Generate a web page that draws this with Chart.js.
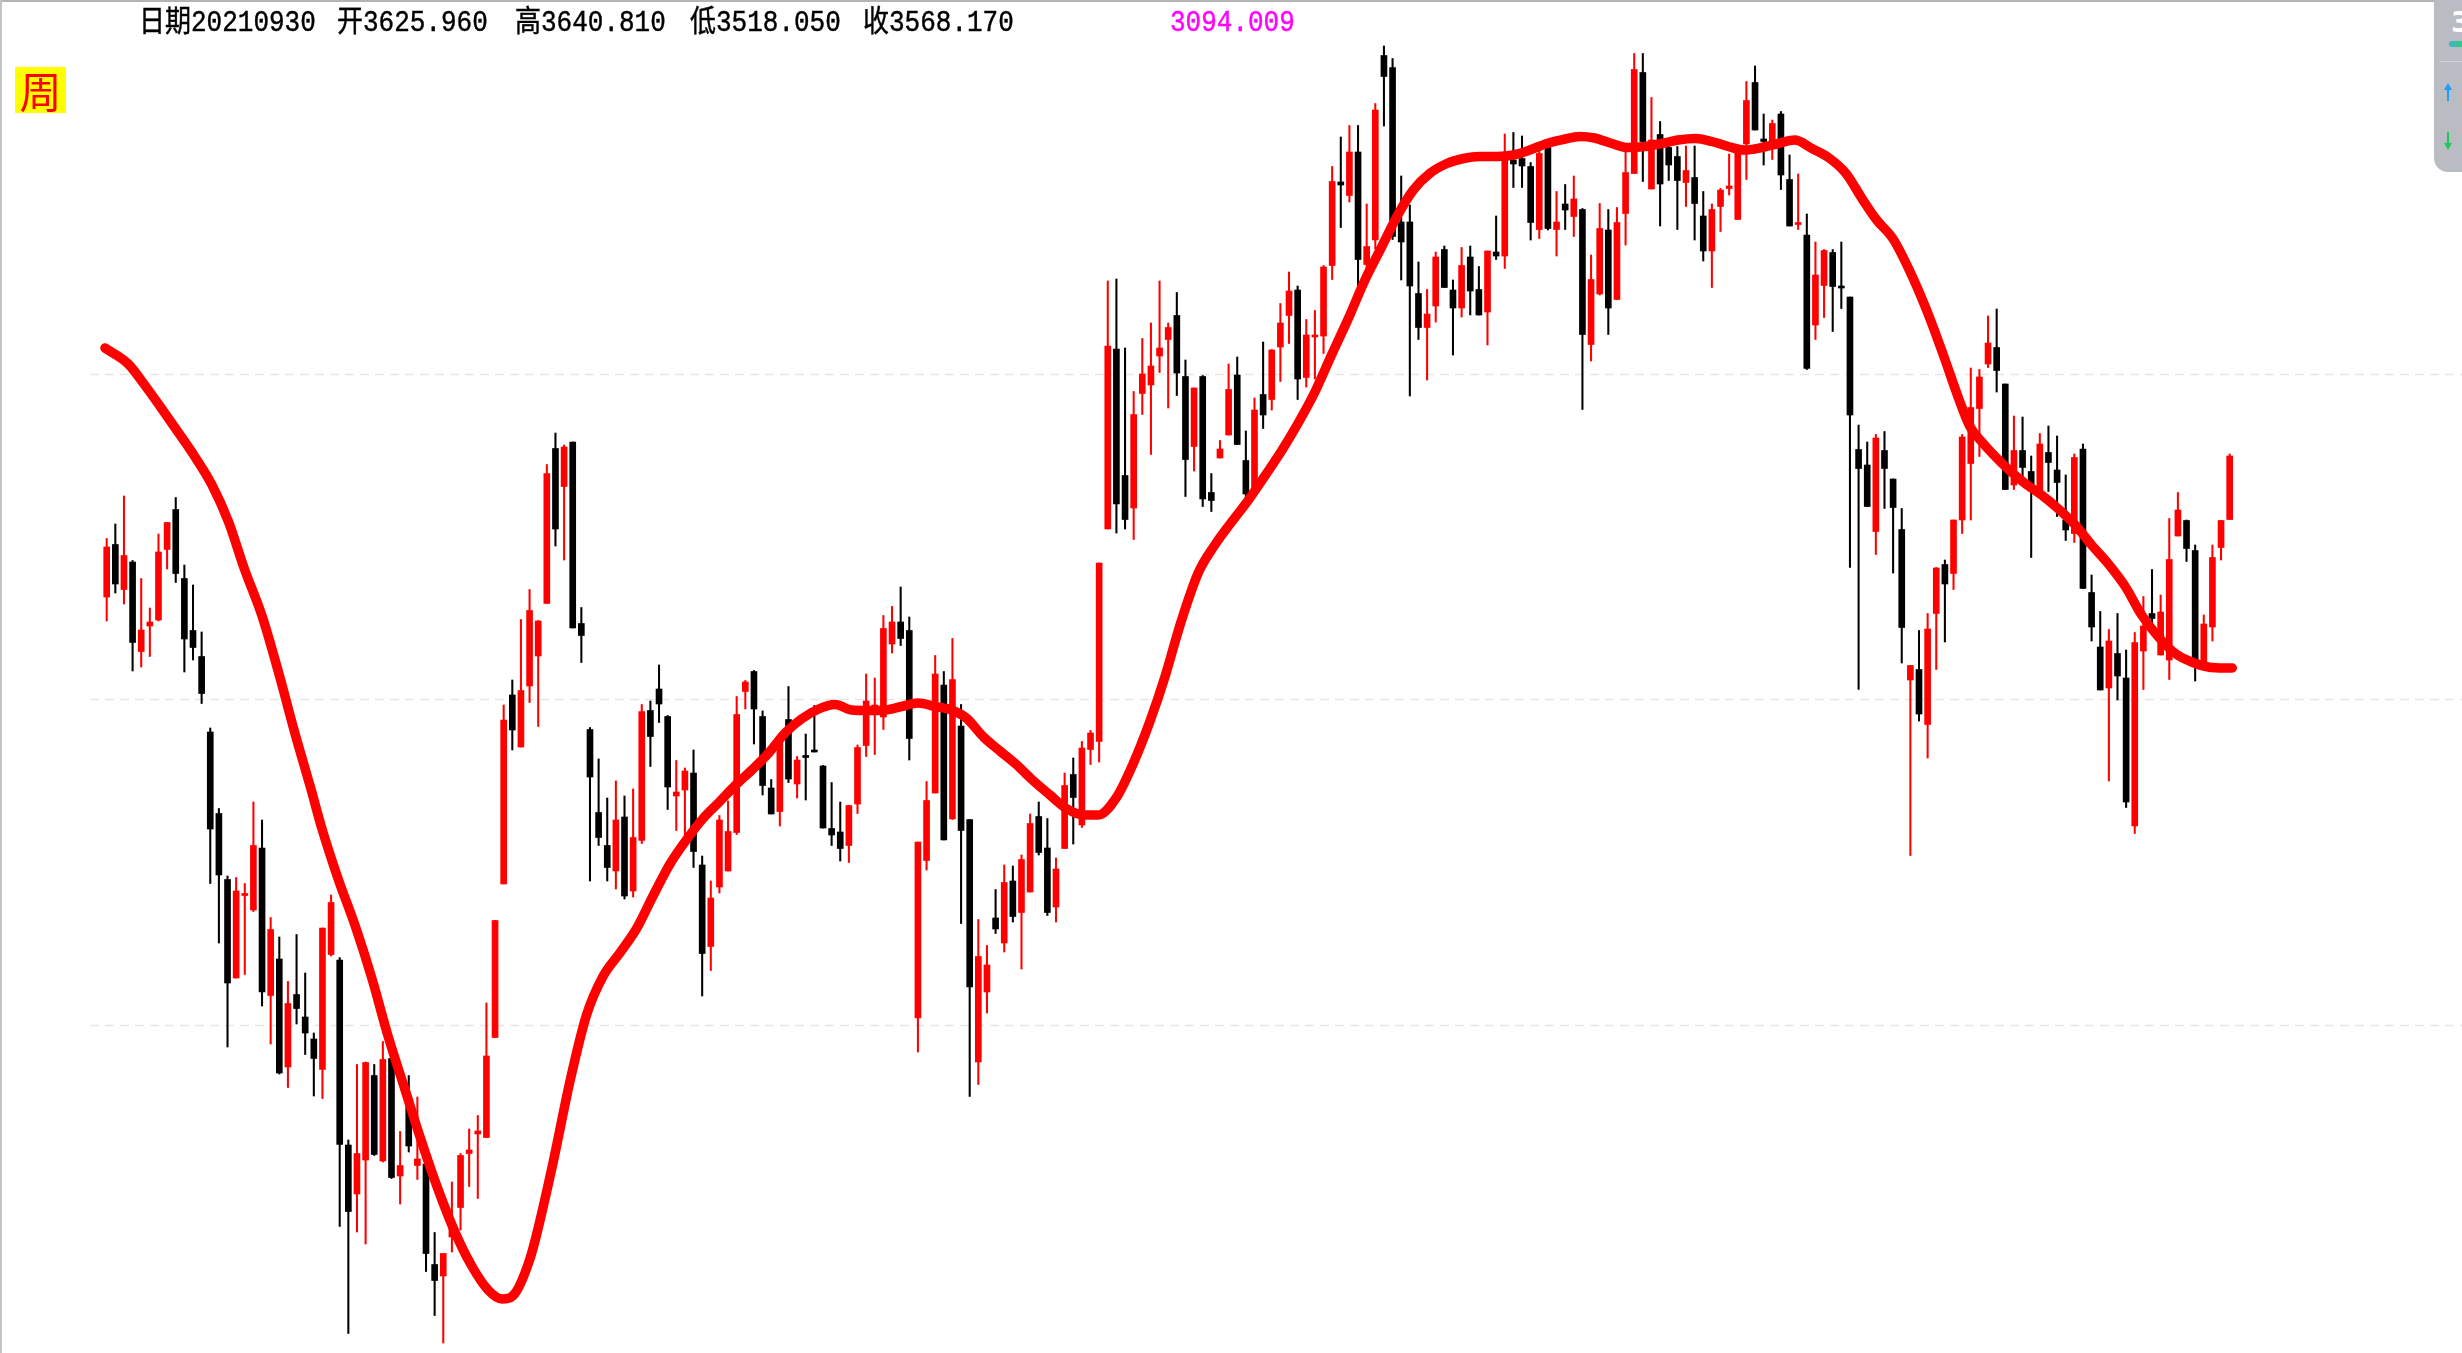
<!DOCTYPE html>
<html><head><meta charset="utf-8">
<script src="https://cdn.jsdelivr.net/npm/chart.js@4.4.0/dist/chart.umd.min.js"></script>
<style>
html,body{margin:0;padding:0;background:#fff;overflow:hidden}
#wrap{position:relative;width:2462px;height:1353px;background:#fff}
#c{position:absolute;left:0;top:0}
.hd{position:absolute;top:6px;font-size:26px;line-height:30px;font-family:"Liberation Mono","Noto Sans CJK SC",monospace;color:#000;white-space:pre;-webkit-text-stroke:0.4px currentColor;transform:scaleY(1.15);transform-origin:0 0}
#zhou{position:absolute;left:15px;top:67px;width:51px;height:46px;background:#ffff00;color:#ff0000;font:42px/46px "Noto Sans CJK SC",sans-serif;text-align:center}
#topline{position:absolute;left:0;top:0;width:2462px;height:2px;background:#b4b4b4}
#leftline{position:absolute;left:0;top:0;width:2px;height:1353px;background:#c4c4c4}
#panel{position:absolute;left:2434px;top:0;width:28px;height:172px;background:#b9bcc2;border-bottom-left-radius:14px;overflow:hidden}
</style></head><body>
<div id="wrap">
<canvas id="c" width="2462" height="1353"></canvas>
<div id="topline"></div><div id="leftline"></div>
<div class="hd" style="left:139px">日期20210930</div>
<div class="hd" style="left:337px">开3625.960</div>
<div class="hd" style="left:515px">高3640.810</div>
<div class="hd" style="left:690px">低3518.050</div>
<div class="hd" style="left:863px">收3568.170</div>
<div class="hd" style="left:1170px;color:#ff00ff">3094.009</div>
<div id="zhou">周</div>
<div id="panel">
  <div style="position:absolute;left:17px;top:6px;color:#fff;font:bold 28px 'DejaVu Sans',sans-serif">3</div>
  <div style="position:absolute;left:15px;top:41px;width:20px;height:6px;border-radius:3px;background:linear-gradient(90deg,#3cb4c8,#3ccf6c)"></div>
  <div style="position:absolute;left:5px;top:61px;width:23px;height:1px;background:#d2d4d8"></div>
  <svg style="position:absolute;left:9px;top:82px" width="10" height="20"><path d="M5 1 L9 8 L6 8 L6 19 L4 19 L4 8 L1 8 Z" fill="#1e9bff"/></svg>
  <svg style="position:absolute;left:9px;top:131px" width="10" height="20"><path d="M5 19 L9 12 L6 12 L6 1 L4 1 L4 12 L1 12 Z" fill="#1ec85a"/></svg>
</div>
</div>
<script>
const openP = [2806,2911,2821,2876,2697,2748,2760,2901,2981,2843,
2739,2687,2536,2373,2241,2044,2209,2180,2304,2009,
2082,1866,2011,1966,1922,1861,2091,2080,1710,1612,
1680,1849,1678,1883,1648,1808,1669,1672,1471,1448,
1526,1585,1693,1732,1725,1925,2232,2610,2506,2628,
2688,2793,3103,3027,3116,2753,2541,2375,2309,2258,
2366,2218,2319,2579,2622,2567,2408,2420,2454,2270,
2107,2226,2258,2335,2617,2657,2567,2424,2377,2561,
2432,2487,2500,2468,2343,2336,2309,2392,2509,2580,
2566,2712,2756,2739,1964,2279,2414,2630,2362,2548,
2361,1876,2016,2164,2114,2238,2175,2216,2367,2304,
2186,2303,2451,2350,2501,2517,2942,3302,3049,2984,
3213,3230,3288,3321,3369,3247,3107,3247,3015,3084,
3130,3250,3079,3020,3211,3201,3306,3369,3420,3245,
3326,3328,3469,3636,3609,3696,3471,3520,3889,3865,
3556,3556,3413,3345,3388,3501,3420,3384,3486,3421,
3376,3496,3488,3680,3683,3667,3541,3705,3541,3592,
3567,3581,3311,3412,3540,3401,3573,3653,3855,3622,
3731,3705,3687,3635,3645,3568,3498,3587,3623,3561,
3712,3835,3722,3717,3772,3641,3551,3530,3350,3429,
3495,3427,3406,3101,3070,2937,3099,3042,2941,2640,
2661,2551,2773,2871,2853,2960,3073,3183,3272,3305,
3232,3030,3099,3057,3020,3095,3060,2960,2933,3102,
2815,2706,2624,2693,2644,2348,2698,2773,2690,2680,
2928,2959,2899,2666,2746,2905,2961];
const highP = [2923,2952,3008,2879,2843,2784,2932,2955,3005,2870,
2830,2736,2544,2383,2248,2245,2233,2396,2360,2165,
2126,2037,2131,2054,1934,2144,2210,2085,1720,1871,
1876,1871,1917,1886,1737,1849,1806,1680,1535,1493,
1636,1693,1742,1769,1994,2159,2590,2640,2761,2821,
2759,3071,3134,3110,3116,2785,2545,2482,2404,2438,
2408,2422,2591,2598,2670,2569,2479,2464,2500,2288,
2238,2369,2398,2607,2639,2659,2578,2441,2523,2627,
2487,2532,2589,2469,2435,2396,2389,2510,2652,2644,
2769,2787,2826,2766,2316,2437,2689,2657,2723,2591,
2361,2161,2109,2221,2270,2268,2290,2372,2396,2363,
2284,2454,2484,2517,2539,2874,3438,3442,3304,3217,
3323,3354,3438,3354,3415,3280,3224,3249,3053,3119,
3272,3286,3138,3204,3316,3301,3393,3456,3428,3361,
3379,3469,3667,3726,3749,3749,3592,3793,3908,3883,
3648,3590,3476,3421,3496,3508,3440,3505,3508,3467,
3498,3568,3732,3735,3728,3675,3705,3708,3617,3631,
3648,3583,3490,3593,3581,3585,3697,3893,3893,3805,
3757,3710,3707,3708,3708,3617,3592,3623,3692,3710,
3837,3868,3772,3760,3777,3690,3652,3572,3516,3501,
3501,3516,3406,3150,3116,3131,3137,3042,2983,2669,
2739,2773,2865,2880,2960,3131,3264,3261,3368,3382,
3232,3168,3166,3088,3133,3148,3128,3050,3092,3112,
2850,2777,2741,2773,2700,2735,2807,2861,2810,2963,
3015,2960,2910,2770,2910,2959,3092];
const lowP = [2758,2814,2792,2658,2666,2687,2758,2862,2835,2656,
2680,2593,2233,2114,1906,2044,2051,2177,1988,1912,
1852,1825,1952,1891,1808,1803,2088,1547,1333,1536,
1512,1689,1676,1643,1592,1696,1641,1457,1369,1314,
1496,1540,1627,1603,1725,1925,2232,2500,2506,2595,
2547,2793,2908,2880,2744,2675,2238,2309,2238,2222,
2202,2206,2313,2467,2555,2381,2339,2327,2265,2008,
2059,2214,2258,2331,2582,2512,2410,2372,2348,2435,
2404,2400,2496,2344,2309,2278,2275,2373,2487,2491,
2541,2694,2709,2480,1896,2260,2414,2320,2361,2153,
1807,1831,1974,2133,2096,2156,2062,2216,2290,2169,
2156,2303,2312,2345,2471,2476,2942,2934,2942,2921,
3171,3091,3255,3184,3209,3007,3058,2987,2977,3084,
3130,3111,3007,3017,3143,3180,3237,3313,3201,3226,
3242,3293,3441,3545,3596,3420,3451,3502,3748,3521,
3440,3208,3321,3240,3356,3425,3290,3366,3370,3370,
3310,3481,3463,3625,3625,3520,3523,3540,3488,3541,
3527,3181,3278,3410,3331,3401,3510,3653,3637,3622,
3548,3639,3541,3587,3520,3478,3425,3537,3610,3561,
3641,3740,3670,3681,3621,3548,3541,3261,3321,3365,
3337,3383,2865,2621,2987,2891,2983,2854,2674,2289,
2558,2484,2661,2716,2821,2933,2960,3087,3265,3216,
3021,3021,3046,2885,3015,3017,2967,2919,2915,2823,
2718,2620,2438,2600,2385,2333,2621,2733,2690,2641,
2928,2877,2638,2666,2718,2880,2961];
const closeP = [2906,2832,2889,2715,2740,2756,2896,2955,2853,2722,
2705,2613,2342,2250,2034,2218,2213,2309,2016,2141,
1854,1993,1983,1934,1883,2144,2195,1711,1577,1693,
1875,1691,1881,1645,1669,1708,1682,1493,1439,1493,
1552,1689,1700,1738,1888,2159,2560,2540,2619,2779,
2758,3053,2942,3106,2744,2729,2446,2325,2265,2360,
2208,2325,2577,2527,2592,2426,2416,2458,2297,2093,
2204,2360,2337,2571,2636,2582,2429,2372,2519,2442,
2480,2485,2496,2344,2330,2303,2389,2505,2598,2590,
2743,2756,2723,2523,2316,2399,2652,2320,2641,2339,
2026,2087,2070,2142,2235,2167,2281,2353,2295,2175,
2262,2429,2405,2504,2534,2874,3308,2992,2961,3171,
3252,3268,3304,3345,3254,3081,3224,3002,2999,3102,
3221,3111,3012,3180,3170,3300,3354,3418,3242,3330,
3330,3466,3637,3630,3696,3481,3507,3780,3847,3527,
3516,3428,3345,3372,3486,3425,3384,3469,3418,3370,
3498,3488,3680,3672,3668,3555,3693,3543,3556,3580,
3602,3331,3441,3543,3384,3555,3655,3861,3717,3720,
3632,3670,3639,3659,3593,3498,3581,3620,3628,3700,
3799,3740,3717,3753,3650,3548,3555,3263,3450,3499,
3427,3424,3170,3063,2987,3124,3063,2985,2745,2669,
2572,2742,2864,2832,2960,3126,3185,3246,3314,3259,
3021,3099,3065,3030,3112,3075,3035,2940,3085,2823,
2746,2620,2718,2648,2396,2715,2748,2763,2776,2881,
2980,2903,2680,2752,2885,2959,3088];
// smoothed average line, sampled along the bar index axis
const maX = [0.8,3.5,5.4,7.4,9.3,11.2,13.2,15.1,17.0,19.0,
20.9,22.8,24.7,25.9,27.8,29.8,31.7,33.6,35.6,37.5,
39.4,41.4,43.3,45.2,46.8,48.3,50.0,50.8,52.7,54.7,
56.6,58.5,60.5,62.4,64.3,66.3,68.2,70.1,72.1,74.0,
75.7,77.7,79.6,81.5,83.5,85.4,87.3,89.2,91.2,93.1,
95.0,97.0,98.9,100.6,102.6,104.5,106.4,108.4,110.3,112.2,
114.2,115.9,118.0,119.9,121.9,123.6,125.5,127.5,129.4,131.3,
133.3,135.2,137.2,139.1,141.0,143.0,144.9,146.8,148.7,150.5,
152.4,154.3,156.3,158.2,160.1,162.1,164.0,165.9,167.9,169.8,
171.7,173.4,175.4,177.3,179.3,181.2,183.1,185.1,187.0,188.9,
190.8,192.8,194.7,196.6,198.6,200.5,202.5,204.5,206.1,208.0,
209.9,211.9,213.8,215.7,216.9,218.4,220.0,221.5,223.3,225.2,
227.1,229.1,231.0,232.9,234.9,236.8,238.7,240.7,242.6,244.5,
246.5,247.3];
const maY = [3304,3272,3230,3182,3135,3087,3030,2957,2860,2768,
2656,2534,2420,2345,2243,2148,2045,1928,1819,1716,
1621,1534,1468,1420,1402,1413,1480,1530,1673,1839,
1970,2047,2095,2143,2208,2273,2321,2363,2398,2432,
2459,2494,2534,2562,2582,2591,2580,2579,2580,2587,
2594,2587,2580,2564,2526,2498,2471,2438,2410,2383,
2370,2370,2405,2471,2558,2645,2757,2855,2910,2955,
3000,3048,3100,3155,3216,3293,3364,3440,3505,3567,
3620,3653,3673,3683,3687,3687,3690,3700,3713,3721,
3727,3724,3713,3705,3707,3713,3720,3723,3717,3707,
3700,3705,3713,3720,3703,3685,3654,3600,3560,3522,
3459,3379,3291,3198,3147,3114,3084,3059,3033,3010,
2983,2950,2910,2873,2827,2770,2727,2693,2676,2666,
2664,2664];
const gridValues = [3252, 2602, 1950];

const UP = '#ff0000', DOWN = '#000000';
const idx = openP.map((_, i) => i + 1);
const colors = idx.map((_, i) => closeP[i] >= openP[i] ? UP : DOWN);
const wickData = idx.map((x, i) => ({x, y: [lowP[i], highP[i]]}));
const bodyData = idx.map((x, i) => ({x, y: [Math.min(openP[i], closeP[i]), Math.max(openP[i], closeP[i])]}));
const maData = maX.map((x, k) => ({x, y: maY[k]}));

const gridPlugin = {
  id: 'dashGrid',
  beforeDatasetsDraw(chart) {
    const ys = chart.scales.y, ctx = chart.ctx;
    ctx.save();
    ctx.strokeStyle = '#e6e6e6';
    ctx.lineWidth = 1.5;
    ctx.setLineDash([9, 6]);
    gridValues.forEach(v => {
      const py = Math.round(ys.getPixelForValue(v)) + 0.5;
      ctx.beginPath(); ctx.moveTo(90, py); ctx.lineTo(chart.width, py); ctx.stroke();
    });
    ctx.restore();
  }
};

new Chart(document.getElementById('c'), {
  type: 'bar',
  data: {
    datasets: [
      {type: 'line', data: maData, borderColor: '#ff0000', borderWidth: 9.5, pointRadius: 0,
       tension: 0.4, cubicInterpolationMode: 'monotone', borderCapStyle: 'round', borderJoinStyle: 'round',
       fill: false, order: 0},
      {type: 'bar', data: bodyData, backgroundColor: colors, barThickness: 6, minBarLength: 2,
       grouped: false, borderWidth: 0, borderSkipped: false, order: 1},
      {type: 'bar', data: wickData, backgroundColor: colors, barThickness: 1.4,
       grouped: false, borderWidth: 0, borderSkipped: false, order: 2}
    ]
  },
  options: {
    responsive: false,
    devicePixelRatio: 1,
    animation: false,
    layout: {padding: 0},
    plugins: {legend: {display: false}, tooltip: {enabled: false}},
    scales: {
      x: {type: 'linear', display: false, offset: false, min: -11.364, max: 273.92},
      y: {type: 'linear', display: false, min: 1294, max: 4000}
    }
  },
  plugins: [gridPlugin]
});
</script>
</body></html>
